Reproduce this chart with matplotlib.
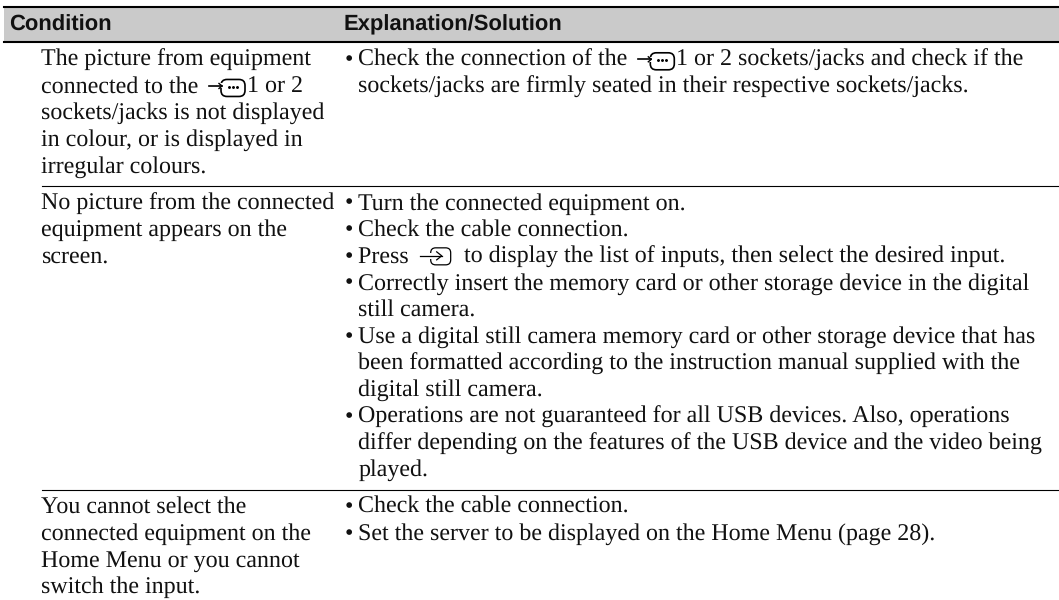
import matplotlib
matplotlib.use('Agg')
import matplotlib.pyplot as plt
from matplotlib.patches import Rectangle, FancyBboxPatch

plt.rcParams['text.hinting'] = 'no_hinting'
plt.rcParams['text.hinting_factor'] = 1

header = ['Condition', 'Explanation/Solution']

# [src] and [input] mark the two little icons
left_rows = [
    ['The picture from equipment', 'connected to the [src]1 or 2', 'sockets/jacks is not displayed',
     'in colour, or is displayed in', 'irregular colours.'],
    ['No picture from the connected', 'equipment appears on the', 'screen.'],
    ['You cannot select the', 'connected equipment on the', 'Home Menu or you cannot', 'switch the input.'],
]
right_rows = [
    [('•', 'Check the connection of the [src]1 or 2 sockets/jacks and check if the'),
     ('', 'sockets/jacks are firmly seated in their respective sockets/jacks.')],
    [('•', 'Turn the connected equipment on.'),
     ('•', 'Check the cable connection.'),
     ('•', 'Press [input] to display the list of inputs, then select the desired input.'),
     ('•', 'Correctly insert the memory card or other storage device in the digital'),
     ('', 'still camera.'),
     ('•', 'Use a digital still camera memory card or other storage device that has'),
     ('', 'been formatted according to the instruction manual supplied with the'),
     ('', 'digital still camera.'),
     ('•', 'Operations are not guaranteed for all USB devices. Also, operations'),
     ('', 'differ depending on the features of the USB device and the video being'),
     ('', 'played.')],
    [('•', 'Check the cable connection.'),
     ('•', 'Set the server to be displayed on the Home Menu (page 28).')],
]
row_baselines = [65.8, 209.5, 513]
row_rules = [186, 490]

SERIF = 'Liberation Serif'
FS = 17.27
PITCH = 26.67
LEFT_X = 41.2
BULLET_X = 344.5
RIGHT_X = 358.5

fig = plt.figure(figsize=(10.59, 6), dpi=100)
ax = fig.add_axes([0, 0, 1, 1])
ax.set_xlim(0, 1059)
ax.set_ylim(600, 0)
ax.axis('off')


def src_icon(x, y):
    # arrow into a rounded box with dots
    ax.add_patch(FancyBboxPatch((x + 12, y - 13), 24, 17, boxstyle='round,pad=0,rounding_size=6',
                                fc='none', ec='black', lw=1.2))
    ax.add_patch(Rectangle((x + 10, y - 9), 4, 5, fc='white', ec='none', zorder=2.1))
    ax.plot([x, x + 13], [y - 6.5, y - 6.5], color='black', lw=1.2, zorder=3)
    ax.plot([x + 10, x + 13, x + 10], [y - 9, y - 6.5, y - 4], color='black', lw=1.0, zorder=3)
    for dx in (20, 24, 28):
        ax.plot([x + dx], [y - 5.5], 'o', color='black', ms=1.1, zorder=3)


def input_icon(x, y):
    ax.add_patch(FancyBboxPatch((x + 11, y - 15), 20, 17, boxstyle='round,pad=0,rounding_size=5',
                                fc='none', ec='black', lw=0.9))
    ax.add_patch(Rectangle((x + 9, y - 10), 4, 6, fc='white', ec='none', zorder=2.1))
    ax.plot([x, x + 22], [y - 7, y - 7], color='black', lw=0.9, zorder=3)
    ax.plot([x + 17, x + 22, x + 17], [y - 11, y - 7, y - 3], color='black', lw=0.9, zorder=3)


def draw_line(x, y, s):
    # plain text, with an icon dropped in where the marker is
    for tag, icon, w in (('[src]', src_icon, 38), ('[input]', input_icon, 38)):
        if tag in s:
            a, b = s.split(tag)
            t = ax.text(x, y, a, family=SERIF, fontsize=FS, va='baseline', ha='left', color='#111111')
            bb = t.get_window_extent(fig.canvas.get_renderer())
            xi = bb.x1 + 4.5
            icon(xi, y)
            ax.text(xi + w, y, b, family=SERIF, fontsize=FS, va='baseline', ha='left', color='#111111')
            return
    ax.text(x, y, s, family=SERIF, fontsize=FS, va='baseline', ha='left', color='#111111')


# header band
ax.add_patch(Rectangle((4, 7), 1055, 35, fc='#cacaca', ec='none'))
ax.plot([4, 1059], [7, 7], color='black', lw=1.5)
ax.plot([4, 1059], [42, 42], color='black', lw=1.5)
ax.text(9.5, 30.7, header[0], family='Liberation Sans', weight='bold', fontsize=15.5, va='baseline', color='#111111')
ax.text(344, 30.7, header[1], family='Liberation Sans', weight='bold', fontsize=15.5, va='baseline', color='#111111')

for r in row_rules:
    ax.plot([41.5, 1059], [r, r], color='black', lw=0.8)

for y0, lines in zip(row_baselines, left_rows):
    for i, s in enumerate(lines):
        draw_line(LEFT_X, y0 + i * PITCH, s)

for y0, lines in zip(row_baselines, right_rows):
    for i, (b, s) in enumerate(lines):
        y = y0 + i * PITCH
        if b:
            ax.text(BULLET_X, y, b, family=SERIF, fontsize=FS, va='baseline', color='#111111')
        draw_line(RIGHT_X, y, s)

fig.savefig('out.png', dpi=100)
